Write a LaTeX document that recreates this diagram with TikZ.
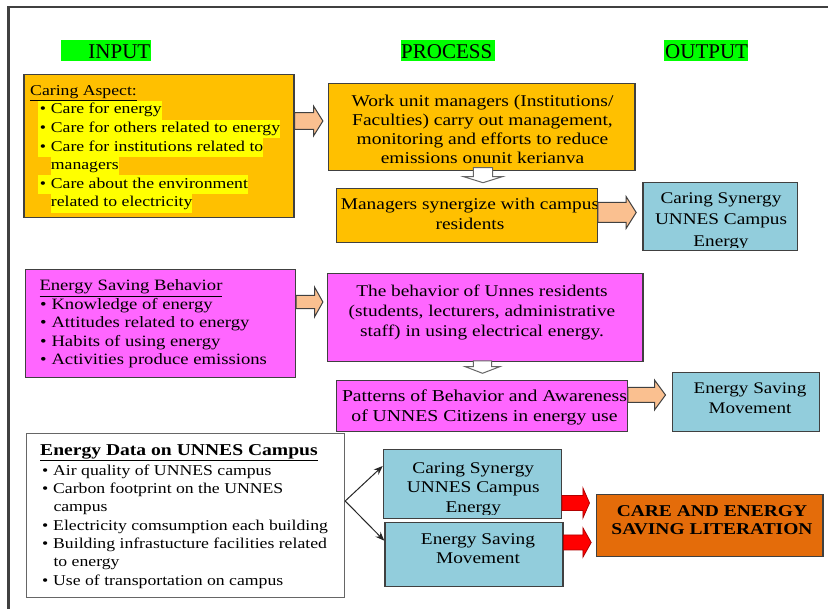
\documentclass[tikz,border=0pt]{standalone}
\usepackage{fontspec}
\setmainfont{Liberation Serif}[FakeStretch=1.18]
\newfontfamily\hdfont{Liberation Serif}
\usetikzlibrary{arrows.meta}
\definecolor{gold}{HTML}{FFC000}
\definecolor{peach}{HTML}{FAC090}
\definecolor{magen}{HTML}{FF66FF}
\definecolor{lblue}{HTML}{92CDDC}
\definecolor{deeporange}{HTML}{E46C0A}
\definecolor{hlyellow}{HTML}{FFFF00}
\definecolor{hlgreen}{HTML}{00FF00}
\definecolor{edge}{HTML}{404040}
\newcommand\hly[1]{{\setlength{\fboxsep}{0pt}\colorbox{hlyellow}{\strut #1}}}
\newcommand\fs[2]{\fontsize{#1}{#2}\selectfont}
\newcommand\bul{\hspace*{2pt}\textbullet\hspace{4.8pt}}
\tikzset{
  box/.style={draw=edge, line width=1.2pt, inner sep=0pt, anchor=north west},
  txt/.style={inner sep=0pt, text=black},
  hdbg/.style={fill=hlgreen, inner sep=0pt, anchor=north west},
  hdtxt/.style={inner sep=0pt, font=\hdfont\fs{21}{24}},
  pics/rarrow/.style args={#1/#2/#3/#4}{code={\draw[pic actions] (0,-#2) -- (#1-#4,-#2) -- (#1-#4,-#3) -- (#1,0) -- (#1-#4,#3) -- (#1-#4,#2) -- (0,#2) -- cycle;}},
  pics/darrow/.style args={#1/#2/#3/#4}{code={\draw[pic actions] (-#2,0) -- (-#2,#1-#4) -- (-#3,#1-#4) -- (0,#1) -- (#3,#1-#4) -- (#2,#1-#4) -- (#2,0) -- cycle;}},
  peacharrow/.style={fill=peach, draw=edge, line width=1pt},
  whitearrow/.style={fill=white, draw=edge!80, line width=1pt},
  redarrow/.style={fill=red, draw=red!70!black, line width=0.8pt},
  link/.style={draw=black!85, line width=1pt, -{Stealth[length=9pt,width=7pt]}},
}
\begin{document}
\begin{tikzpicture}[x=1pt,y=-1pt]
\fill[white] (0,0) rectangle (828,609);
\useasboundingbox (0,0) rectangle (828,609);
% frame
\draw[line width=2.5pt, edge] (8.5,609) -- (8.5,7) -- (828,7);
% headers
\node[hdbg, minimum width=89.7pt, minimum height=21pt] (inbg) at (61,40) {};
\node[hdtxt, anchor=base east] (input) at (150.5,58.8) {INPUT};
\node[hdbg, minimum width=93.6pt, minimum height=21pt] (prbg) at (400.7,40) {};
\node[hdtxt, anchor=base west] (process) at (401,58.8) {PROCESS};
\node[hdbg, minimum width=84.4pt, minimum height=21pt] (outbg) at (663.3,40) {};
\node[hdtxt, anchor=base west] (output) at (665,58.8) {OUTPUT};

% ---------- row 1
\node[box, fill=gold, minimum width=270pt, minimum height=143.3pt] (care) at (23.3,74) {};
\node[txt, anchor=base west, align=left, font=\fs{15}{18.6}] (careT) at (30,207) {\underline{Caring Aspect:}\\
\hspace*{7.7pt}\hly{\bul Care for energy}\\
\hspace*{7.7pt}\hly{\bul Care for others related to energy}\\
\hspace*{7.7pt}\hly{\bul Care for institutions related to}\\
\hspace*{20.7pt}\hly{managers}\\
\hspace*{7.7pt}\hly{\bul Care about the environment}\\
\hspace*{20.7pt}\hly{related to electricity}};

\node[box, fill=gold, minimum width=306.6pt, minimum height=87.3pt] (work) at (327.7,82.7) {};
\node[txt, anchor=base, align=center, font=\fs{16.5}{19.1}] (workT) at (482.5,164) {Work unit managers (Institutions/\\
Faculties) carry out management,\\
monitoring and efforts to reduce\\
emissions onunit kerianva};

\node[box, fill=gold, minimum width=260.7pt, minimum height=54pt] (mgr) at (336,188.3) {};
\node[txt, anchor=base, align=center, font=\fs{16.4}{19.3}] (mgrT) at (470,229.3) {Managers synergize with campus\\ residents};

\node[box, fill=lblue, minimum width=154.4pt, minimum height=67.7pt] (syn1) at (642.3,182.3) {};
\begin{scope}
\clip (syn1.north west) rectangle (syn1.east |- 0,248);
\node[txt, anchor=base, align=center, font=\fs{16.3}{21.5}] (syn1T) at (721,246.3) {Caring Synergy\\ UNNES Campus\\ Energy};
\end{scope}

\pic[peacharrow] (ar1) at (care.east |- 0,121) {rarrow={28.4/8.3/15/9.4}};
\pic[whitearrow] (dn1) at (483,167.7) {darrow={15/9.7/19.3/6}};
\pic[peacharrow] (ar2) at (mgr.east |- 0,212.5) {rarrow={38.3/10/15.8/10}};

% ---------- row 2
\node[box, fill=magen, minimum width=270pt, minimum height=108.3pt] (esb) at (25,269) {};
\node[txt, anchor=base west, align=left, font=\fs{15.8}{18.5}] (esbT) at (39.3,365) {\underline{Energy Saving Behavior}\\
\hspace*{-1.3pt}\bul Knowledge of energy\\
\hspace*{-1.3pt}\bul Attitudes related to energy\\
\hspace*{-1.3pt}\bul Habits of using energy\\
\hspace*{-1.3pt}\bul Activities produce emissions};

\node[box, fill=magen, minimum width=315.6pt, minimum height=87.7pt] (beh) at (326.7,273.3) {};
\node[txt, anchor=base, align=center, font=\fs{16.4}{20}] (behT) at (482,336.7) {The behavior of Unnes residents\\
(students, lecturers, administrative\\
staff) in using electrical energy.};

\node[box, fill=magen, minimum width=290.7pt, minimum height=51pt] (pat) at (336,380) {};
\node[txt, anchor=base, align=center, font=\fs{16.7}{20}] (patT) at (484.5,421.7) {Patterns of Behavior and Awareness\\ of UNNES Citizens in energy use};

\node[box, fill=lblue, minimum width=147.3pt, minimum height=59pt] (esm1) at (671.7,371.7) {};
\node[txt, anchor=base, align=center, font=\fs{16.2}{20}] (esm1T) at (750,413.3) {Energy Saving\\ Movement};

\pic[peacharrow] (ar3) at (esb.east |- 0,302) {rarrow={26.7/6.7/15/8.4}};
\pic[whitearrow] (dn2) at (482.5,361) {darrow={12.3/9.2/17.2/6.6}};
\pic[peacharrow] (ar4) at (pat.east |- 0,395) {rarrow={37.6/7.5/15/11}};

% ---------- row 3
\node[box, draw=gray!80!black, fill=white, minimum width=318pt, minimum height=163.4pt] (edata) at (26,433.3) {};
\node[txt, anchor=base west, align=left, font=\fs{15}{18.3}] (edataT) at (40,585) {{\fs{16.6}{18.3}\bfseries\underline{Energy Data on UNNES Campus}}\\[1.7pt]
\bul Air quality of UNNES campus\\
\bul Carbon footprint on the UNNES\\
\hspace*{13.3pt}campus\\
\bul Electricity comsumption each building\\
\bul Building infrastucture facilities related\\
\hspace*{13.3pt}to energy\\
\bul Use of transportation on campus};

\node[box, fill=lblue, minimum width=178pt, minimum height=68.4pt] (syn2) at (382.7,449.3) {};
\begin{scope}
\clip (syn2.north west) rectangle (syn2.east |- 0,514.5);
\node[txt, anchor=base, align=center, font=\fs{16.4}{19.5}] (syn2T) at (473.3,512.5) {Caring Synergy\\ UNNES Campus\\ Energy};
\end{scope}

\node[box, fill=lblue, minimum width=178pt, minimum height=63.4pt] (esm2) at (384.3,522.3) {};
\node[txt, anchor=base, align=center, font=\fs{16.4}{19}] (esm2T) at (478,564) {Energy Saving\\ Movement};

\node[box, fill=deeporange, minimum width=226.6pt, minimum height=62pt] (lit) at (595.7,494) {};
\node[txt, anchor=base, align=center, font=\fs{16.5}{18.5}\bfseries] (litT) at (712,535) {CARE AND ENERGY\\ SAVING LITERATION};

\coordinate (fork) at (edata.east |- 0,501);
\draw[link] (fork) -- (syn2.west |- 0,466);
\draw[link] (fork) -- (esm2.west |- 0,540.7);

\pic[redarrow] (ar5) at (syn2.east |- 0,503) {rarrow={27.6/7.5/15/6.6}};
\pic[redarrow] (ar6) at (esm2.east |- 0,542.5) {rarrow={27.7/7.5/14.7/8.3}};
\end{tikzpicture}
\end{document}
